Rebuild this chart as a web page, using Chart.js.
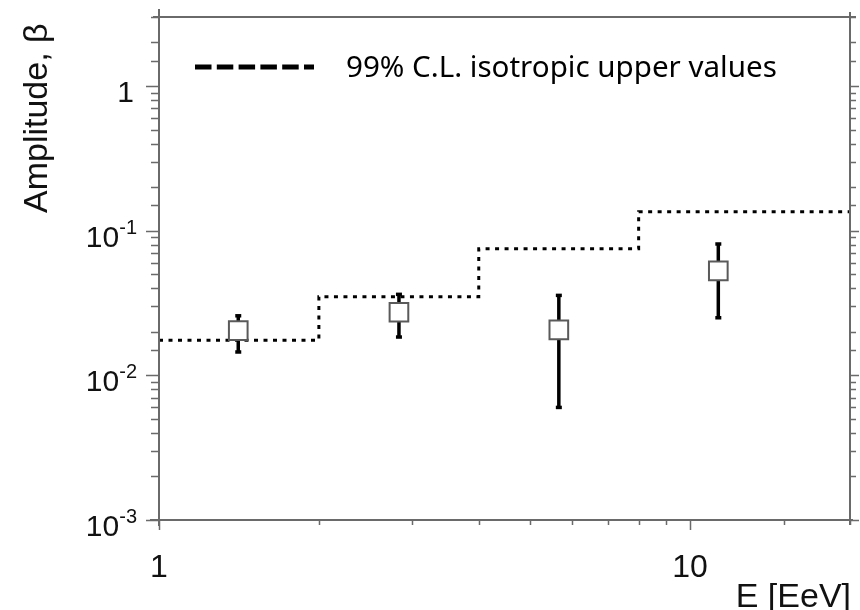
<!DOCTYPE html>
<html>
<head>
<meta charset="utf-8">
<script src="https://cdn.jsdelivr.net/npm/chart.js@4/dist/chart.umd.min.js"></script>
<style>
  html, body { margin: 0; padding: 0; background: #ffffff; }
  #wrap { width: 860px; height: 610px; }
</style>
</head>
<body>
<div id="wrap"><canvas id="c" width="860" height="610"></canvas></div>
<script>
// ---- data ----
const energies   = [1.41, 2.83, 5.66, 11.3];          // E [EeV]
const amplitudes = [0.0204, 0.0273, 0.0206, 0.0528];  // beta
const errLow     = [0.0145, 0.0184, 0.0060, 0.0250];
const errHigh    = [0.0258, 0.0363, 0.0357, 0.0809];

const stepEdges  = [1, 2, 4, 8, 20];
const stepValues = [0.0175, 0.035, 0.075, 0.135, 0.135];

const xTickValues = [1, 10];
const xTickLabels = ['1', '10'];
const yTickValues = [1, 0.1, 0.01, 0.001];
const yTickBases  = ['1', '10', '10', '10'];
const yTickExps   = ['', '-1', '-2', '-3'];

const xTitle = 'E [EeV]';
const yTitle = 'Amplitude, \u03b2';
const legendLabel = '99% C.L. isotropic upper values';

// ---- datasets ----
const datasets = [];
datasets.push({
  label: 'points',
  data: energies.map((e, i) => ({ x: e, y: amplitudes[i] })),
  showLine: false,
  pointStyle: 'rect',
  pointRadius: 13.2,
  pointBackgroundColor: '#ffffff',
  pointBorderColor: '#5a5a5a',
  pointBorderWidth: 2,
  order: 0
});
energies.forEach((e, i) => {
  datasets.push({
    label: 'err' + i,
    data: [{ x: e, y: errLow[i] }, { x: e, y: errHigh[i] }],
    borderColor: '#000000',
    borderWidth: 3.5,
    pointStyle: 'line',
    pointRadius: 3,
    pointBorderWidth: 3.5,
    pointBorderColor: '#000000',
    order: 1
  });
});
datasets.push({
  label: legendLabel,
  data: stepEdges.map((e, i) => ({ x: e, y: stepValues[i] })),
  stepped: 'before',
  borderColor: '#000000',
  borderWidth: 3,
  borderDash: [4, 5.5],
  pointRadius: 0,
  order: 2
});

const isPow10 = v => Math.abs(Math.log10(v) - Math.round(Math.log10(v))) < 1e-9;

const decorPlugin = {
  id: 'decor',
  afterDraw(chart) {
    const ctx = chart.ctx;
    const xs = chart.scales.x, ys = chart.scales.y;
    const a = chart.chartArea;
    ctx.save();
    // frame
    ctx.strokeStyle = '#6a6a6a';
    ctx.lineWidth = 2;
    ctx.beginPath();
    ctx.moveTo(a.left, 9); ctx.lineTo(a.left, a.bottom + 6);
    ctx.moveTo(a.left - 9, a.bottom); ctx.lineTo(a.right + 3, a.bottom);
    ctx.moveTo(a.right, a.top - 5); ctx.lineTo(a.right, a.bottom + 5);
    ctx.moveTo(a.left - 6, a.top); ctx.lineTo(a.right + 6, a.top);
    ctx.stroke();

    // y ticks (left and right)
    ctx.lineWidth = 1.5;
    ctx.strokeStyle = '#6a6a6a';
    ctx.beginPath();
    ys.ticks.forEach(t => {
      const p = Math.round(ys.getPixelForValue(t.value)) + 0.5;
      const major = isPow10(t.value);
      ctx.moveTo(a.left - (major ? 13 : 8), p); ctx.lineTo(a.left, p);
      ctx.moveTo(a.right, p); ctx.lineTo(a.right + (major ? 9 : 6), p);
    });
    xs.ticks.forEach(t => {
      const p = Math.round(xs.getPixelForValue(t.value)) + 0.5;
      const major = isPow10(t.value);
      ctx.moveTo(p, a.bottom); ctx.lineTo(p, a.bottom + (major ? 10 : 5));
    });
    ctx.stroke();

    // y tick labels with superscripts
    ctx.fillStyle = '#111111';
    ctx.textBaseline = 'alphabetic';
    const rightEdge = a.left - 22;
    yTickValues.forEach((v, i) => {
      const p = ys.getPixelForValue(v);
      ctx.font = '20px "Liberation Sans", Arial, sans-serif';
      const expW = yTickExps[i] ? ctx.measureText(yTickExps[i]).width : 0;
      if (yTickExps[i]) {
        ctx.textAlign = 'right';
        ctx.fillText(yTickExps[i], rightEdge, p + 3);
      }
      ctx.font = '30px "Liberation Sans", Arial, sans-serif';
      ctx.textAlign = 'right';
      ctx.fillText(yTickBases[i], rightEdge - expW - (expW ? 0 : 3), p + 16);
    });

    // x tick labels
    ctx.font = '32px "Liberation Sans", Arial, sans-serif';
    ctx.textAlign = 'center';
    xTickValues.forEach((v, i) => {
      const p = xs.getPixelForValue(v);
      ctx.fillText(xTickLabels[i], p, 577);
    });

    // x title
    ctx.font = '34px "Liberation Sans", Arial, sans-serif';
    ctx.textAlign = 'right';
    ctx.fillText(xTitle, a.right + 1, 607);

    // y title
    ctx.save();
    ctx.translate(47, 213);
    ctx.rotate(-Math.PI / 2);
    ctx.textAlign = 'left';
    ctx.font = '34px "Liberation Sans", Arial, sans-serif';
    ctx.fillText(yTitle, 0, 0);
    ctx.restore();

    // legend
    ctx.strokeStyle = '#000000';
    ctx.lineWidth = 5;
    ctx.setLineDash([16.5, 5.3]);
    ctx.beginPath();
    ctx.moveTo(195, 67); ctx.lineTo(314, 67);
    ctx.stroke();
    ctx.setLineDash([]);
    let fs = 26;
    ctx.font = fs + 'px "Comic Sans MS", "Noto Sans", sans-serif';
    const w = ctx.measureText(legendLabel).width;
    fs = fs * 431 / w;
    ctx.font = fs.toFixed(2) + 'px "Comic Sans MS", "Noto Sans", sans-serif';
    ctx.textAlign = 'left';
    ctx.fillStyle = '#000000';
    ctx.fillText(legendLabel, 346, 77);
    ctx.restore();
  }
};

new Chart(document.getElementById('c'), {
  type: 'line',
  data: { datasets },
  options: {
    responsive: false,
    devicePixelRatio: 1,
    animation: false,
    layout: { autoPadding: false, padding: { top: 17, right: 10, left: 0, bottom: 0 } },
    plugins: { legend: { display: false }, tooltip: { enabled: false } },
    scales: {
      x: {
        type: 'logarithmic', min: 1, max: 20,
        grid: { display: false }, border: { display: false },
        ticks: { display: false },
        afterFit: s => { s.height = 90; }
      },
      y: {
        type: 'logarithmic', min: 0.001, max: 3,
        grid: { display: false }, border: { display: false },
        ticks: { display: false },
        afterFit: s => { s.width = 159; }
      }
    }
  },
  plugins: [decorPlugin]
});
</script>
</body>
</html>
